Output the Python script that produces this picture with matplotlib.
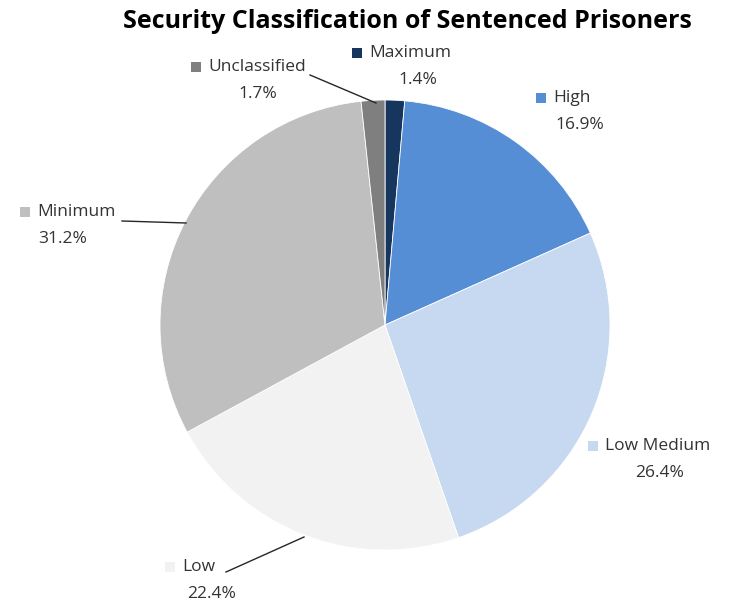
import matplotlib.pyplot as plt

# data (clockwise from 12 o'clock)
categories = ['Maximum', 'High', 'Low Medium', 'Low', 'Minimum', 'Unclassified']
shares = [1.4, 16.9, 26.4, 22.4, 31.2, 1.7]
colors = ['#17365d', '#558ed5', '#c6d9f1', '#f2f2f2', '#bfbfbf', '#7f7f7f']

plt.rcParams['font.family'] = ['Open Sans', 'DejaVu Sans']

W, H = 729, 604
fig = plt.figure(figsize=(W / 100, H / 100), dpi=100)
ax = fig.add_axes([0, 0, 1, 1])

cx, cy, r = 385, H - 325, 225
wedges, _ = ax.pie(shares, colors=colors, startangle=90, counterclock=False,
                   center=(cx, cy), radius=r, frame=True,
                   wedgeprops=dict(edgecolor='white', linewidth=0.6))
ax.set_xlim(0, W)
ax.set_ylim(0, H)
ax.set_aspect('equal')
ax.axis('off')

ax.text(407, H - 22, 'Security Classification of Sentenced Prisoners',
        ha='center', va='center', fontsize=18, fontweight='bold', color='black')

# label layout in pixel coords: (square x, name y, pct center x)
label_pos = {
    'Maximum': (357, 53, 418),
    'High': (541, 98, 580),
    'Low Medium': (593, 446, 660),
    'Low': (170, 567, 212),
    'Minimum': (25, 212, 63),
    'Unclassified': (196, 67, 258),
}
txt = '#333333'
for name, val, col in zip(categories, shares, colors):
    sx, ly, px = label_pos[name]
    ax.scatter([sx], [H - ly], marker='s', s=45, color=col, linewidths=0)
    ax.text(sx + 12, H - ly, name, ha='left', va='center', fontsize=12.5, color=txt)
    ax.text(px, H - ly - 27, f'{val}%', ha='center', va='center', fontsize=12.5, color=txt)

# leader lines
lines = [
    [(310, 75), (376, 103)],
    [(122, 221), (186, 223)],
    [(226, 572), (304, 537)],
]
for pts in lines:
    xs = [p[0] for p in pts]
    ys = [H - p[1] for p in pts]
    ax.plot(xs, ys, color='#262626', linewidth=1)

fig.savefig('out.png', dpi=100, facecolor='white')
